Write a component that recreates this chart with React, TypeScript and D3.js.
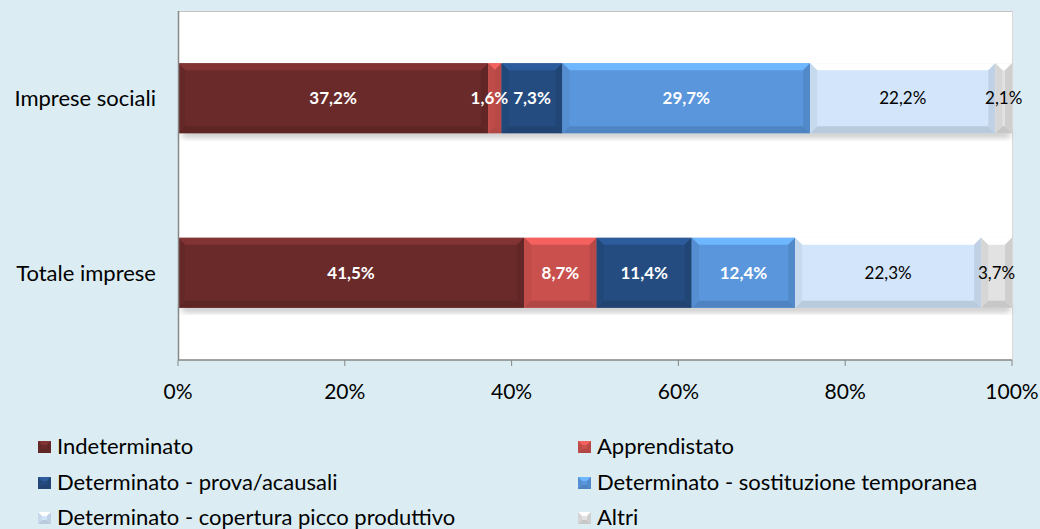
import React, { useEffect, useRef } from "react";
import * as d3 from "d3";

const categories = ["Imprese sociali", "Totale imprese"];
const seriesNames = [
  "Indeterminato",
  "Apprendistato",
  "Determinato - prova/acausali",
  "Determinato - sostituzione temporanea",
  "Determinato - copertura picco produttivo",
  "Altri",
];
const impreseSociali = [37.2, 1.6, 7.3, 29.7, 22.2, 2.1];
const totaleImprese = [41.5, 8.7, 11.4, 12.4, 22.3, 3.7];
const xTicks = [0, 20, 40, 60, 80, 100];

const colors = ["#6b2a2a", "#c9504d", "#244c80", "#5a96dc", "#d2e5fa", "#e2e2e2"];
const labelColors = ["#fff", "#fff", "#fff", "#fff", "#000", "#000"];
const FONT = "Lato, 'Open Sans', sans-serif";

export default function App() {
  const ref = useRef<SVGSVGElement>(null);

  useEffect(() => {
    document.body.style.margin = "0";
    if (!ref.current) return;
    const svg = d3.select(ref.current);
    svg.selectAll("*").remove();

    const W = 1040, H = 529;
    const plot = { left: 178, right: 1012, top: 11, bottom: 360 };

    svg.append("rect").attr("width", W).attr("height", H).attr("fill", "#dbedf3");

    const defs = svg.append("defs");
    defs.append("filter").attr("id", "shadow").attr("x", "-5%").attr("y", "-50%").attr("width", "110%").attr("height", "200%")
      .append("feGaussianBlur").attr("stdDeviation", 3);

    svg.append("rect")
      .attr("x", plot.left).attr("y", plot.top)
      .attr("width", plot.right - plot.left).attr("height", plot.bottom - plot.top)
      .attr("fill", "#fff");
    svg.append("line").attr("x1", plot.left).attr("x2", plot.right).attr("y1", plot.top + 0.5).attr("y2", plot.top + 0.5)
      .attr("stroke", "#c4c4c4");
    svg.append("line").attr("x1", plot.right + 0.5).attr("x2", plot.right + 0.5).attr("y1", plot.top).attr("y2", plot.bottom)
      .attr("stroke", "#d8d8d8");

    const x = d3.scaleLinear().domain([0, 100]).range([plot.left, plot.right]);
    const y = d3.scaleBand().domain(categories).range([plot.top, plot.bottom]).paddingInner(0.6).paddingOuter(0.3);

    const rows = [impreseSociali, totaleImprese];

    const bevel = (g: any, x0: number, y0: number, w: number, h: number, c: string, bMax: number) => {
      const b = Math.min(bMax, w / 2, h / 2);
      const base = d3.color(c)!;
      g.append("rect").attr("x", x0).attr("y", y0).attr("width", w).attr("height", h).attr("fill", c);
      const poly = (pts: number[][], fill: string) =>
        g.append("polygon").attr("points", pts.map((p) => p.join(",")).join(" ")).attr("fill", fill);
      poly([[x0, y0], [x0 + w, y0], [x0 + w - b, y0 + b], [x0 + b, y0 + b]], base.brighter(0.55).formatHex());
      poly([[x0, y0 + h], [x0 + w, y0 + h], [x0 + w - b, y0 + h - b], [x0 + b, y0 + h - b]], base.darker(0.35).formatHex());
      poly([[x0, y0], [x0 + b, y0 + b], [x0 + b, y0 + h - b], [x0, y0 + h]], base.darker(0.15).formatHex());
      poly([[x0 + w, y0], [x0 + w - b, y0 + b], [x0 + w - b, y0 + h - b], [x0 + w, y0 + h]], base.darker(0.25).formatHex());
    };

    rows.forEach((vals, ri) => {
      const cat = categories[ri];
      const by = y(cat)!;
      const bh = y.bandwidth();
      const total = d3.sum(vals);
      // ombra sotto la barra
      svg.append("rect")
        .attr("x", x(0) + 4).attr("y", by + bh - 2)
        .attr("width", x(Math.min(total, 100)) - x(0) - 6).attr("height", 6)
        .attr("fill", "#7a7a7a").attr("opacity", 0.5).attr("filter", "url(#shadow)");

      let acc = 0;
      vals.forEach((v, si) => {
        const x0 = x(acc);
        const x1 = x(Math.min(acc + v, 100));
        acc += v;
        const g = svg.append("g");
        bevel(g, x0, by, x1 - x0, bh, colors[si], 7);
      });

      acc = 0;
      const labels: { node: SVGTextElement; cx: number; w: number }[] = [];
      vals.forEach((v, si) => {
        const cx = (x(acc) + x(Math.min(acc + v, 100))) / 2;
        acc += v;
        const t = svg.append("text")
          .attr("x", cx).attr("y", by + bh / 2 + 6)
          .attr("text-anchor", "middle")
          .attr("font-family", FONT)
          .attr("font-size", 17)
          .attr("font-weight", si < 4 ? 700 : 400)
          .attr("fill", labelColors[si])
          .text(v.toFixed(1).replace(".", ",") + "%");
        const node = t.node() as SVGTextElement;
        labels.push({ node, cx, w: node.getComputedTextLength() });
      });
      // sposta a sinistra le etichette che si sovrappongono
      for (let i = labels.length - 2; i >= 0; i--) {
        const a = labels[i], b = labels[i + 1];
        const maxRight = b.cx - b.w / 2 - 5;
        if (a.cx + a.w / 2 > maxRight) {
          a.cx = maxRight - a.w / 2;
          a.node.setAttribute("x", String(a.cx));
        }
      }

      svg.append("text")
        .attr("x", 156).attr("y", by + bh / 2 + 8)
        .attr("text-anchor", "end")
        .attr("font-family", FONT).attr("font-size", 22).attr("fill", "#000")
        .text(cat);
    });

    // asse x
    svg.append("line").attr("x1", plot.left + 0.5).attr("x2", plot.left + 0.5).attr("y1", plot.top).attr("y2", plot.bottom)
      .attr("stroke", "#868686").attr("stroke-width", 1.5);
    svg.append("line").attr("x1", plot.left).attr("x2", plot.right).attr("y1", plot.bottom).attr("y2", plot.bottom)
      .attr("stroke", "#868686").attr("stroke-width", 1.5);
    xTicks.forEach((t) => {
      svg.append("line").attr("x1", x(t)).attr("x2", x(t)).attr("y1", plot.bottom).attr("y2", plot.bottom + 6)
        .attr("stroke", "#868686");
      svg.append("text")
        .attr("x", x(t)).attr("y", 399)
        .attr("text-anchor", "middle")
        .attr("font-family", FONT).attr("font-size", 21).attr("fill", "#000")
        .text(t + "%");
    });

    // legenda
    const legendPos = [
      [38, 454], [578, 454],
      [38, 490], [578, 490],
      [38, 525], [578, 525],
    ];
    seriesNames.forEach((name, i) => {
      const [lx, ly] = legendPos[i];
      const g = svg.append("g");
      bevel(g, lx, ly - 13, 13, 12, colors[i], 4);
      g.append("text")
        .attr("x", lx + 19).attr("y", ly)
        .attr("font-family", FONT).attr("font-size", 22).attr("fill", "#000")
        .text(name);
    });
  }, []);

  return <svg ref={ref} width={1040} height={529} style={{ display: "block" }} />;
}
